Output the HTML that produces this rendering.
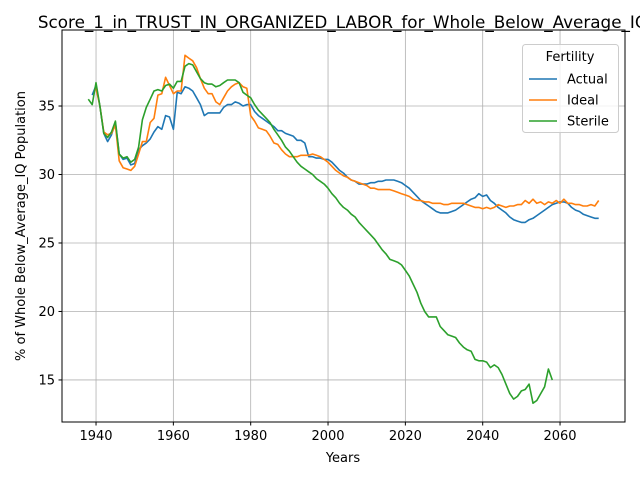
<!DOCTYPE html>
<html><head><meta charset="utf-8"><style>
html,body{margin:0;padding:0;background:#fff;}
svg text{font-family:"DejaVu Sans","Liberation Sans",sans-serif;}
</style></head><body>
<svg id="chart" width="640" height="480" viewBox="0 0 640 480" xmlns="http://www.w3.org/2000/svg">
<rect x="0" y="0" width="640" height="480" fill="#fff"/>
<g id="grid"></g>
<g id="series"></g>
<rect x="62" y="30" width="563" height="392" fill="none" stroke="#000" stroke-width="1"/>
<g id="ticks"></g>
<text x="343" y="28" font-size="16.8" text-anchor="middle">Score_1_in_TRUST_IN_ORGANIZED_LABOR_for_Whole_Below_Average_IQ</text>
<text x="343" y="462" font-size="13" text-anchor="middle">Years</text>
<text x="25" y="226" font-size="13" text-anchor="middle" transform="rotate(-90 25 226)">% of Whole Below_Average_IQ Population</text>
<g id="legend">
<rect x="522.5" y="44.5" width="96" height="88" rx="3" fill="#fff" fill-opacity="0.8" stroke="#ccc"/>
<text x="570" y="61" font-size="13" text-anchor="middle">Fertility</text>
</g>
</svg>
<script>
const years0 = 1938;
const actualStart = 1939;
const actual = [35.8,36.5,35,33,32.4,32.9,33.8,31.5,31.1,31.2,30.7,30.8,31.8,32.1,32.3,32.6,33.1,33.5,33.3,34.3,34.2,33.3,36.0,35.9,36.4,36.3,36.1,35.6,35.1,34.3,34.5,34.5,34.5,34.5,34.9,35.1,35.1,35.3,35.2,35.0,35.1,35.1,34.6,34.3,34.1,33.9,33.7,33.5,33.2,33.2,33.0,32.9,32.8,32.5,32.5,32.3,31.3,31.3,31.2,31.2,31.1,31.1,30.9,30.6,30.3,30.1,29.8,29.6,29.5,29.3,29.3,29.3,29.4,29.4,29.5,29.5,29.6,29.6,29.6,29.5,29.4,29.2,29.0,28.7,28.4,28.1,27.9,27.7,27.5,27.3,27.2,27.2,27.2,27.3,27.4,27.6,27.8,28.0,28.2,28.3,28.6,28.4,28.5,28.1,27.9,27.6,27.4,27.2,26.9,26.7,26.6,26.5,26.5,26.7,26.8,27.0,27.2,27.4,27.6,27.8,27.9,28.0,28.0,27.9,27.6,27.4,27.3,27.1,27.0,26.9,26.8,26.8];
const idealStart = 1940;
const ideal = [36.3,35,33.1,32.9,33.0,33.6,31.0,30.5,30.4,30.3,30.6,31.5,32.4,32.4,33.8,34.1,35.8,35.9,37.1,36.5,35.9,36.1,36.1,38.7,38.5,38.3,37.8,37.0,36.3,35.9,35.9,35.3,35.1,35.6,36.1,36.4,36.6,36.7,36.4,36.3,34.3,33.9,33.4,33.3,33.2,32.8,32.3,32.2,31.8,31.5,31.3,31.3,31.3,31.4,31.4,31.4,31.5,31.4,31.3,31.1,30.9,30.6,30.3,30.1,29.9,29.8,29.6,29.5,29.4,29.3,29.2,29.0,29.0,28.9,28.9,28.9,28.9,28.8,28.7,28.6,28.5,28.4,28.2,28.1,28.1,28.0,28.0,27.9,27.9,27.9,27.8,27.8,27.9,27.9,27.9,27.9,27.8,27.7,27.6,27.6,27.5,27.6,27.5,27.6,27.8,27.7,27.6,27.7,27.7,27.8,27.8,28.1,27.9,28.2,27.9,28.0,27.8,28.0,27.9,28.1,27.9,28.2,27.9,27.9,27.8,27.8,27.7,27.7,27.8,27.7,28.1];
const sterileStart = 1938;
const sterile = [35.5,35.1,36.7,35.0,33.0,32.7,33.1,33.9,31.5,31.2,31.3,30.9,31.1,32.0,34.0,34.9,35.5,36.1,36.2,36.1,36.5,36.6,36.3,36.8,36.8,37.9,38.1,38.0,37.5,37.0,36.7,36.6,36.6,36.4,36.5,36.7,36.9,36.9,36.9,36.7,36.0,35.8,35.6,35.1,34.7,34.4,34.1,33.8,33.3,32.9,32.5,32.0,31.7,31.3,30.9,30.6,30.4,30.2,30.0,29.7,29.5,29.3,29.0,28.6,28.3,27.9,27.6,27.4,27.1,26.9,26.5,26.2,25.9,25.6,25.3,24.9,24.5,24.2,23.8,23.7,23.6,23.4,23.0,22.6,22.0,21.4,20.6,20.0,19.6,19.6,19.6,18.9,18.6,18.3,18.2,18.1,17.7,17.4,17.2,17.1,16.5,16.4,16.4,16.3,15.9,16.1,15.9,15.4,14.7,14.0,13.6,13.8,14.2,14.3,14.7,13.3,13.5,14.0,14.5,15.8,15.0];
const xTicks = [1940,1960,1980,2000,2020,2040,2060];
const yTicks = [15,20,25,30,35];
const seriesNames = ["Actual","Ideal","Sterile"];

const NS = "http://www.w3.org/2000/svg";
const L=62,R=625,T=30,B=422;
const xMin=1931.2,xMax=2076.8,yMin=11.93,yMax=40.55;
function xs(v){return L+(v-xMin)/(xMax-xMin)*(R-L);}
function ys(v){return B-(v-yMin)/(yMax-yMin)*(B-T);}
function mk(tag,attrs,parent){const e=document.createElementNS(NS,tag);for(const k in attrs)e.setAttribute(k,attrs[k]);parent.appendChild(e);return e;}
const grid=document.getElementById('grid'),ticks=document.getElementById('ticks'),sg=document.getElementById('series'),lg=document.getElementById('legend');
xTicks.forEach(t=>{const x=xs(t);
 const g=mk('line',{x1:x,x2:x,y1:T,y2:B,stroke:'#b0b0b0','stroke-width':0.8},grid);
 
 
 const tk=mk('line',{x1:x,x2:x,y1:B,y2:B+3.5,stroke:'#000'},ticks);
 
 
 const tx=mk('text',{x:x,y:B+18,'font-size':13,'text-anchor':'middle'},ticks);tx.textContent=t;
 
 
});
yTicks.forEach(t=>{const y=ys(t);
 const g=mk('line',{x1:L,x2:R,y1:y,y2:y,stroke:'#b0b0b0','stroke-width':0.8},grid);
 
 
 const tk=mk('line',{x1:L-3.5,x2:L,y1:y,y2:y,stroke:'#000'},ticks);
 
 
 const tx=mk('text',{x:L-7,y:y+4.5,'font-size':13,'text-anchor':'end'},ticks);tx.textContent=t;
 
 
});
const colors=['#1f77b4','#ff7f0e','#2ca02c'];
[[actual,actualStart],[ideal,idealStart],[sterile,sterileStart]].forEach((s,i)=>{
 const pts=s[0].map((v,j)=>xs(s[1]+j).toFixed(1)+','+ys(v).toFixed(1)).join(' ');
 const p=mk('polyline',{points:pts,fill:'none',stroke:colors[i],'stroke-width':1.6,'stroke-linejoin':'round'},sg);
 
 
 const y=79+i*21;
 const ll=mk('line',{x1:529,x2:557,y1:y,y2:y,stroke:colors[i],'stroke-width':1.6},lg);
 
 
 const lt=mk('text',{x:567,y:y+4.5,'font-size':13},lg);lt.textContent=seriesNames[i];
 
 
});
</script>
</body></html>
